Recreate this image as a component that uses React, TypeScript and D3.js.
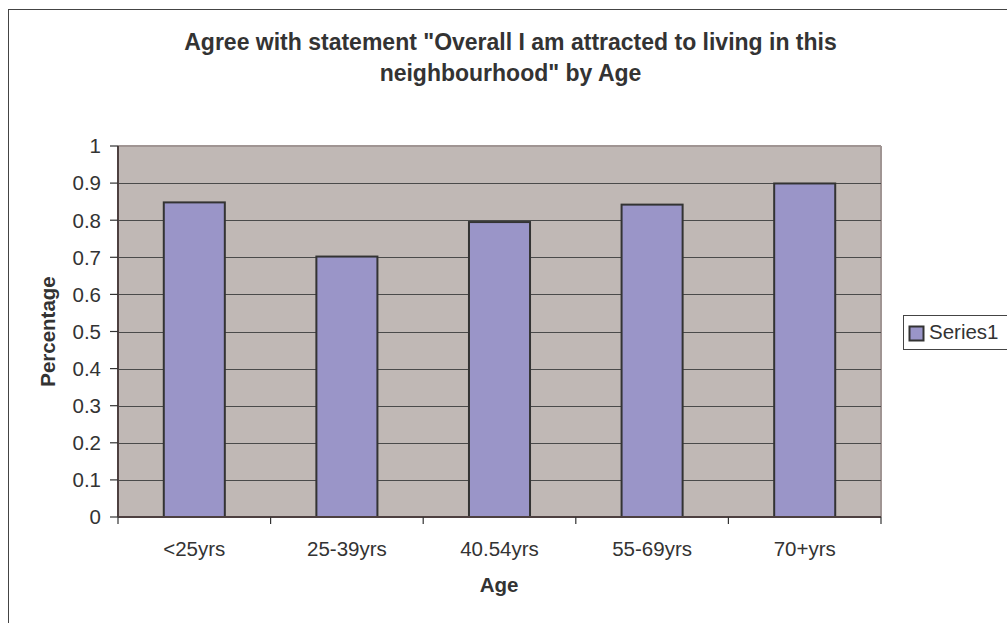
import React from "react";
import * as d3 from "d3";

const categories = ["<25yrs", "25-39yrs", "40.54yrs", "55-69yrs", "70+yrs"];
const values = [0.848, 0.702, 0.795, 0.842, 0.899];
const yTicks = [0, 0.1, 0.2, 0.3, 0.4, 0.5, 0.6, 0.7, 0.8, 0.9, 1];
const titleLines = ["Agree with statement \"Overall I am attracted to living in this", "neighbourhood\" by Age"];
const seriesName = "Series1";

export default function App() {
  const left = 118, right = 881, top = 146, bottom = 517;
  const x = d3.scaleBand<string>().domain(categories).range([left, right]).padding(0);
  const y = d3.scaleLinear().domain([0, 1]).range([bottom, top]);
  const barW = x.bandwidth() / 2.5;
  const font = "Liberation Sans, Arial, sans-serif";
  const txt = "#333";
  const boundaries = [...categories.map((c) => x(c) as number), right];

  return (
    <svg width={1007} height={623} style={{ position: "absolute", left: 0, top: 0 }} fontFamily={font}>
      <rect x={0} y={0} width={1007} height={623} fill="#fff" />
      <rect x={8.5} y={9.5} width={1010} height={630} fill="none" stroke="#444" strokeWidth={1} />
      {titleLines.map((t, i) => (
        <text key={i} x={510.5} y={50 + i * 31} textAnchor="middle" fontWeight="bold" fontSize={23} fill={txt}>
          {t}
        </text>
      ))}
      <rect x={left} y={top} width={right - left} height={bottom - top} fill="#C0B8B5" />
      <line x1={left} x2={right} y1={top} y2={top} stroke="#A09593" strokeWidth={2} />
      <line x1={right} x2={right} y1={top} y2={bottom} stroke="#A09593" strokeWidth={2} />
      {yTicks.filter((t) => t > 0 && t < 1).map((t) => (
        <line key={t} x1={left} x2={right} y1={Math.round(y(t)) + 0.5} y2={Math.round(y(t)) + 0.5} stroke="#4a4a4a" strokeWidth={1.2} />
      ))}
      {categories.map((c, i) => {
        const cx = (x(c) as number) + x.bandwidth() / 2;
        return (
          <rect key={c} x={cx - barW / 2} y={y(values[i])} width={barW} height={bottom - y(values[i])}
            fill="#9A95C8" stroke="#333" strokeWidth={2} />
        );
      })}
      <line x1={left} x2={left} y1={top} y2={bottom} stroke="#4d4040" strokeWidth={2} />
      <line x1={left} x2={right} y1={bottom} y2={bottom} stroke="#4d4040" strokeWidth={2} />
      {yTicks.map((t) => (
        <g key={t}>
          <line x1={110} x2={left} y1={y(t)} y2={y(t)} stroke="#333" strokeWidth={1.2} />
          <text x={101} y={y(t)} dy="0.36em" textAnchor="end" fontSize={20.5} fill={txt}>{String(t)}</text>
        </g>
      ))}
      {boundaries.map((b, i) => (
        <line key={i} x1={b} x2={b} y1={bottom} y2={bottom + 7} stroke="#333" strokeWidth={1.2} />
      ))}
      {categories.map((c) => (
        <text key={c} x={(x(c) as number) + x.bandwidth() / 2} y={556} textAnchor="middle" fontSize={20.5} fill={txt}>{c}</text>
      ))}
      <text x={499} y={592} textAnchor="middle" fontWeight="bold" fontSize={20.5} fill={txt}>Age</text>
      <text transform={`translate(55, ${(top + bottom) / 2}) rotate(-90)`} textAnchor="middle" fontWeight="bold" fontSize={20.5} fill={txt}>Percentage</text>
      <rect x={903.5} y={315.5} width={120} height={34} fill="#fff" stroke="#444" strokeWidth={1} />
      <rect x={909.5} y={326.5} width={14} height={14} fill="#9A95C8" stroke="#333" strokeWidth={2} />
      <text x={929} y={339} fontSize={20.5} fill={txt}>{seriesName}</text>
    </svg>
  );
}
